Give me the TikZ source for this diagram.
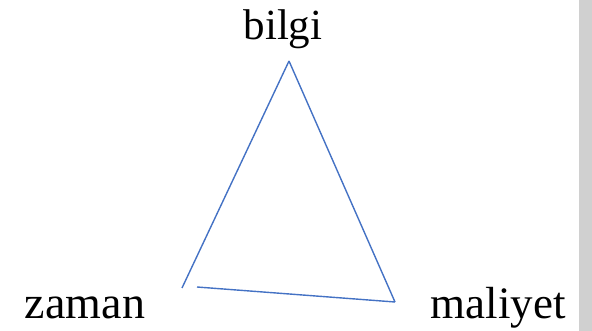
\documentclass[tikz,border=0pt]{standalone}
\usepackage{fontspec}
\setmainfont{Liberation Serif}
\usepackage{xcolor}

\begin{document}
\begin{tikzpicture}[x=1pt, y=-1pt]

% Colori
\definecolor{colLinea}{HTML}{4472C4}
\definecolor{colBarra}{HTML}{D0D0D0}

% Cornice
\useasboundingbox (0,0) rectangle (592,331);
\fill[colBarra] (579,0) rectangle (592,331);

% Vertici
\coordinate (tepe) at (289,61);
\coordinate (solalt) at (182,288);
\coordinate (altbas) at (197,287);
\coordinate (sagalt) at (395,302);

% Lati
\draw[colLinea, line width=1.4pt] (tepe) -- (solalt);
\draw[colLinea, line width=1.4pt] (altbas) -- (sagalt);
\draw[colLinea, line width=1.4pt] (sagalt) -- (tepe);

% Etichette
\node[anchor=base, font=\fontsize{43}{48}\selectfont, inner sep=0pt] (bilgi) at (283,40) {bilgi};
\node[anchor=base, font=\fontsize{46}{50}\selectfont, inner sep=0pt] (zaman) at (85,318) {zaman};
\node[anchor=base, font=\fontsize{45}{50}\selectfont, inner sep=0pt] (maliyet) at (498,318) {maliyet};

\end{tikzpicture}
\end{document}
